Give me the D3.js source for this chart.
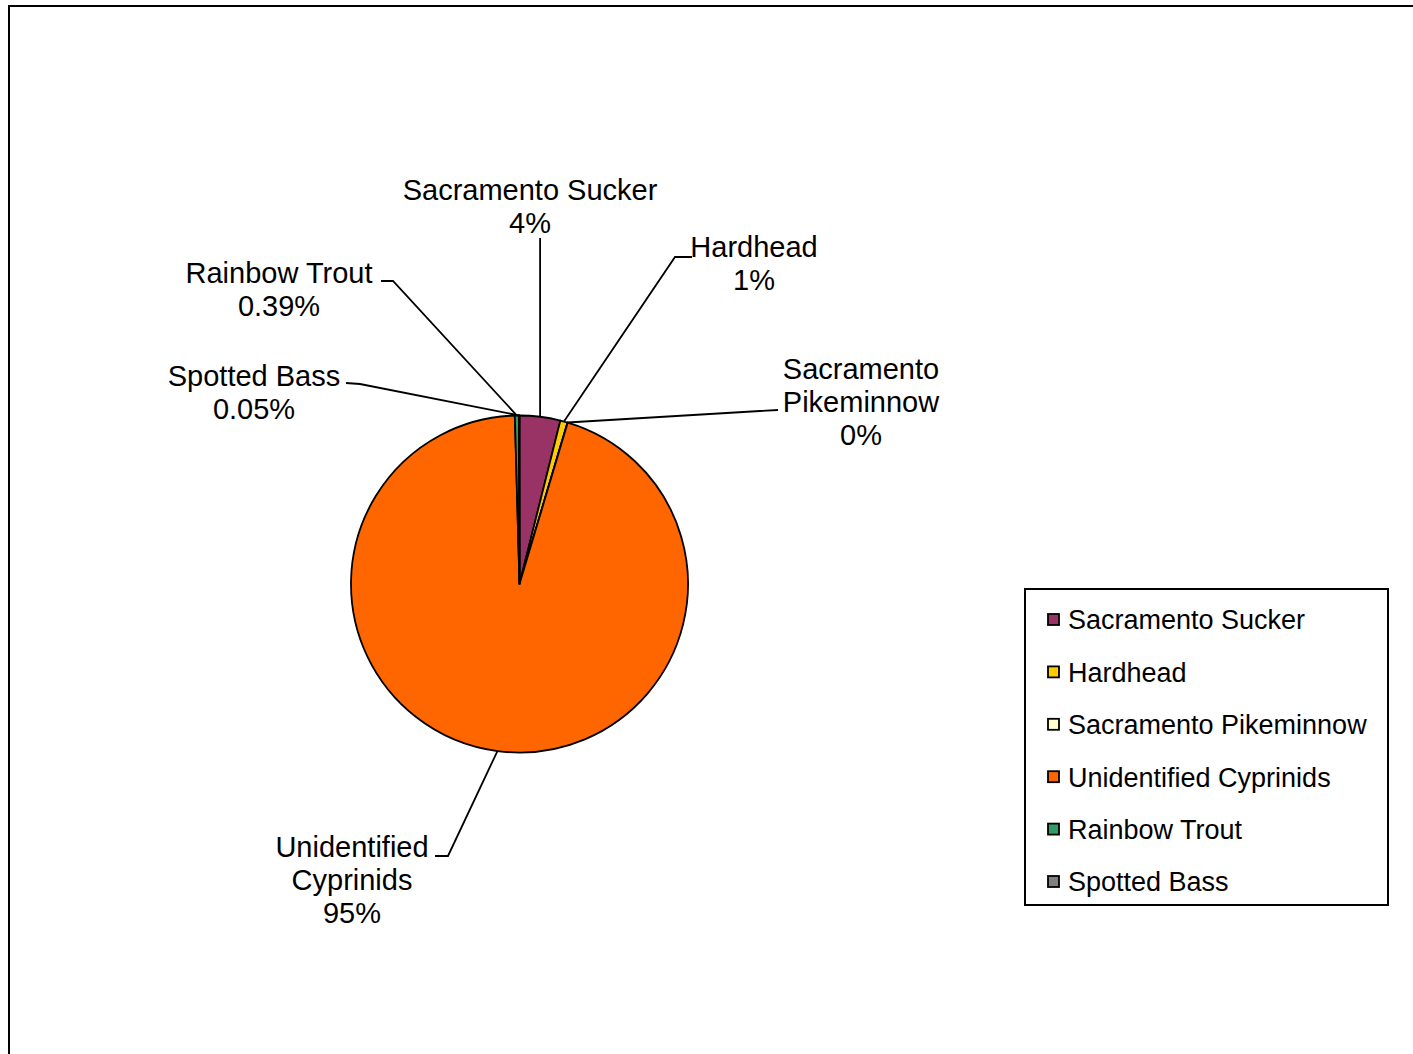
<!DOCTYPE html>
<html>
<head>
<meta charset="utf-8">
<script src="https://cdn.jsdelivr.net/npm/d3@7"></script>
<style>
  html, body { margin: 0; padding: 0; background: #fff; }
  svg { display: block; }
  text { font-family: "Liberation Sans", Arial, sans-serif; fill: #000; }
</style>
</head>
<body>
<svg id="chart" width="1413" height="1054"></svg>
<script>
// ---- data ----
const categories = ["Sacramento Sucker", "Hardhead", "Sacramento Pikeminnow", "Unidentified Cyprinids", "Rainbow Trout", "Spotted Bass"];
const values = [3.9, 0.7, 0.02, 94.94, 0.39, 0.05];
const pctLabels = ["4%", "1%", "0%", "95%", "0.39%", "0.05%"];
const labelLines = [["Sacramento Sucker"], ["Hardhead"], ["Sacramento", "Pikeminnow"], ["Unidentified", "Cyprinids"], ["Rainbow Trout"], ["Spotted Bass"]];
const colors = ["#993366", "#FFCC00", "#FFFFCC", "#FF6600", "#339966", "#808080"];

// ---- layout ----
const W = 1413, H = 1054;
const cx = 519.5, cy = 584, R = 168.5;
const svg = d3.select("#chart");

// outer chart frame (extends beyond right and bottom edges)
svg.append("rect").attr("x", 9).attr("y", 6).attr("width", W + 20).attr("height", H + 20)
  .attr("fill", "#fff").attr("stroke", "#000").attr("stroke-width", 2);

const data = categories.map((c, i) => ({ name: c, value: values[i], pct: pctLabels[i], lines: labelLines[i], color: colors[i] }));

const pie = d3.pie().value(d => d.value).sort(null);
const arcs = pie(data);
const arc = d3.arc().innerRadius(0).outerRadius(R);

const g = svg.append("g").attr("transform", `translate(${cx},${cy})`);
g.selectAll("path.slice").data(arcs).enter().append("path")
  .attr("class", "slice")
  .attr("d", arc)
  .attr("fill", d => d.data.color)
  .attr("stroke", "#000")
  .attr("stroke-width", 1.8)
  .attr("stroke-linejoin", "round");

// label placement (centre x, first line centre y, leader start, elbow)
const lineH = 33;
const labelPos = [
  { x: 530, y: 190, start: null, elbow: null, top: 238 - cy },
  { x: 754, y: 247, start: [692 - cx, 257 - cy], elbow: [675 - cx, 257 - cy] },
  { x: 861, y: 369, start: [778 - cx, 410 - cy], elbow: [760 - cx, 411 - cy] },
  { x: 352, y: 847, start: [435 - cx, 856 - cy], elbow: [448 - cx, 856 - cy] },
  { x: 279, y: 273, start: [381 - cx, 281 - cy], elbow: [393 - cx, 281 - cy] },
  { x: 254, y: 376, start: [346 - cx, 383 - cy], elbow: [360 - cx, 384 - cy] }
];

// leader lines
arcs.forEach((a, i) => {
  const mid = (a.startAngle + a.endAngle) / 2;
  const rim = [R * Math.sin(mid), -R * Math.cos(mid)];
  const p = labelPos[i];
  const pts = [];
  if (p.start) pts.push(p.start);
  if (p.elbow) pts.push(p.elbow);
  else pts.push([rim[0], p.top]);
  pts.push(rim);
  g.append("path")
    .attr("d", d3.line()(pts))
    .attr("fill", "none")
    .attr("stroke", "#000")
    .attr("stroke-width", 1.8);
});

// data labels
arcs.forEach((a, i) => {
  const p = labelPos[i];
  const lines = a.data.lines.concat([a.data.pct]);
  const t = svg.append("text")
    .attr("text-anchor", "middle")
    .attr("font-size", 29);
  lines.forEach((ln, k) => {
    t.append("tspan").attr("x", p.x).attr("y", p.y + k * lineH).attr("dy", "0.35em").text(ln);
  });
});

// legend
const lg = svg.append("g");
lg.append("rect").attr("x", 1025).attr("y", 589).attr("width", 363).attr("height", 316)
  .attr("fill", "#fff").attr("stroke", "#000").attr("stroke-width", 2);
const rowY = d3.scalePoint().domain(categories).range([620, 882]);
categories.forEach((c, i) => {
  const y = rowY(c);
  lg.append("rect").attr("x", 1048).attr("y", y - 6).attr("width", 11).attr("height", 11)
    .attr("fill", colors[i]).attr("stroke", "#000").attr("stroke-width", 1.8);
  lg.append("text").attr("x", 1068).attr("y", y).attr("dy", "0.35em")
    .attr("font-size", 27).text(c);
});
</script>
</body>
</html>
